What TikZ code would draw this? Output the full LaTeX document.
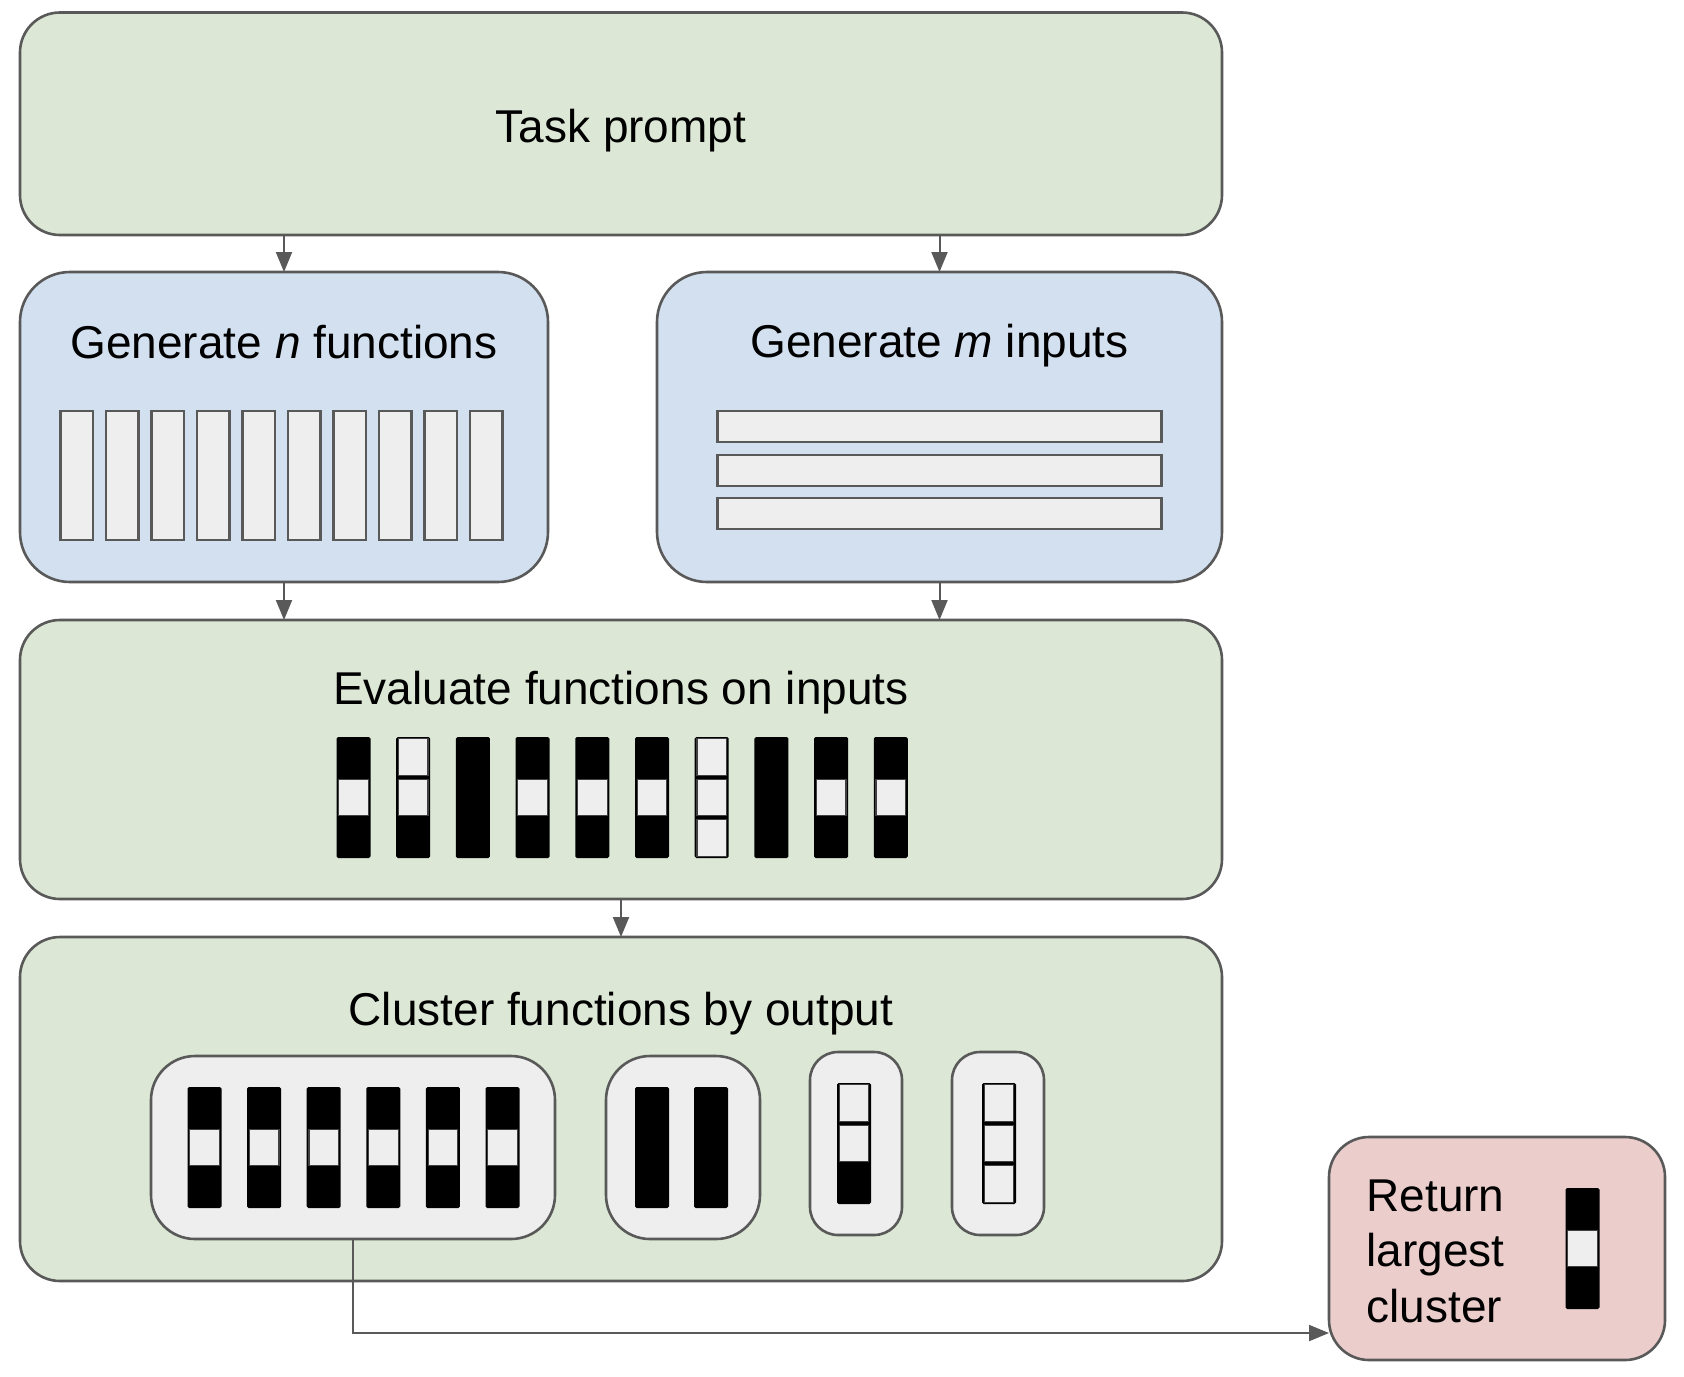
\documentclass[tikz,border=0pt]{standalone}
\usepackage{fontspec}
\setmainfont{Liberation Sans}
\usetikzlibrary{fit,arrows.meta}
\definecolor{gfill}{HTML}{DCE8D5}
\definecolor{bfill}{HTML}{D3E0F0}
\definecolor{rfill}{HTML}{EBCDCC}
\definecolor{cellg}{HTML}{EEEEEE}
\definecolor{edge}{HTML}{595959}
\newcommand\wcellx[4]{\if#4W\filldraw[fill=cellg,draw=black!75,line width=0.6pt] (#1+2.2,#2+#3*40.33+1.8) rectangle ++(29.6,36.7);\fi}
\newcommand\vbarr[5]{%
  \fill[black,rounded corners=0.8pt] (#1,#2) rectangle ++(34,121);
  \wcellx{#1}{#2}{0}{#3}\wcellx{#1}{#2}{1}{#4}\wcellx{#1}{#2}{2}{#5}}
\tikzset{
  boxbase/.style={draw=edge,line width=1.3pt,inner sep=0pt,outer sep=0pt},
  greenbox/.style={boxbase,fill=gfill,rounded corners=20pt},
  bluebox/.style={boxbase,fill=bfill,rounded corners=25pt},
  redbox/.style={boxbase,fill=rfill,rounded corners=20pt},
  clbox/.style={boxbase,fill=cellg,rounded corners=22pt},
  clsmall/.style={boxbase,fill=cellg,rounded corners=14pt},
  lbl/.style={inner sep=0pt,font=\fontsize{23}{28}\selectfont},
  frect/.style={fill=cellg,draw=edge,line width=1.2pt},
  arr/.style={draw=edge,line width=1pt,-{Triangle[length=10pt,width=8pt]}}
}
\begin{document}
\begin{tikzpicture}[x=0.5pt,y=-0.5pt]
\useasboundingbox (0,0) rectangle (1684,1376);
% main boxes
\node[greenbox,fit={(20,12.5) (1222,235)}] (task) {};
\node[bluebox,fit={(20,272) (548,582)}] (genn) {};
\node[bluebox,fit={(657,272) (1222,582)}] (genm) {};
\node[greenbox,fit={(20,620) (1222,899)}] (eval) {};
\node[greenbox,fit={(20,937) (1222,1281)}] (clus) {};
\node[redbox,fit={(1329,1137) (1665,1360)}] (ret) {};
% labels
\node[lbl,anchor=base] (tasklbl) at (621,142) {Task prompt};
\node[lbl,anchor=base] (gennlbl) at (284,358) {Generate \textit{n} functions};
\node[lbl,anchor=base] (genmlbl) at (939.5,357) {Generate \textit{m} inputs};
\node[lbl,anchor=base] (evallbl) at (621,704) {Evaluate functions on inputs};
\node[lbl,anchor=base] (cluslbl) at (621,1025) {Cluster functions by output};
\node[lbl,anchor=base west] (ret1) at (1366,1211) {Return};
\node[lbl,anchor=base west] (ret2) at (1366,1266) {largest};
\node[lbl,anchor=base west] (ret3) at (1366,1322) {cluster};
% function rectangles
\foreach \i in {0,...,9}
  \draw[frect] (60.5+45.5*\i,411) rectangle ++(32.5,129);
% input rectangles
\foreach \y in {411,455,498}
  \draw[frect] (717.5,\y) rectangle ++(444,31);
% evaluation bars
\foreach \a/\b/\c [count=\i from 0] in {B/W/B,W/W/B,B/B/B,B/W/B,B/W/B,B/W/B,W/W/W,B/B/B,B/W/B,B/W/B}
  {\vbarr{336.5+59.7*\i}{737}{\a}{\b}{\c}}
% cluster sub-boxes
\node[clbox,fit={(151,1056) (555,1239)}] (c1) {};
\node[clbox,fit={(606,1056) (760,1239)}] (c2) {};
\node[clsmall,fit={(810,1052) (902,1235)}] (c3) {};
\node[clsmall,fit={(952,1052) (1044,1235)}] (c4) {};
\foreach \i in {0,...,5}
  {\vbarr{187.5+59.6*\i}{1087}{B}{W}{B}}
\vbarr{635}{1087}{B}{B}{B}
\vbarr{694}{1087}{B}{B}{B}
\vbarr{837}{1083}{W}{W}{B}
\vbarr{982}{1083}{W}{W}{W}
\vbarr{1565.5}{1188}{B}{W}{B}
% connectors
\draw[arr] (task.south -| genn.north) -- (genn.north);
\draw[arr] (task.south -| genm.north) -- (genm.north);
\draw[arr] (genn.south) -- (genn.south |- eval.north);
\draw[arr] (genm.south) -- (genm.south |- eval.north);
\draw[arr] (eval.south) -- (clus.north);
\coordinate (retin) at (1329,1333);
\draw[arr] (c1.south) |- (retin);
\end{tikzpicture}
\end{document}
